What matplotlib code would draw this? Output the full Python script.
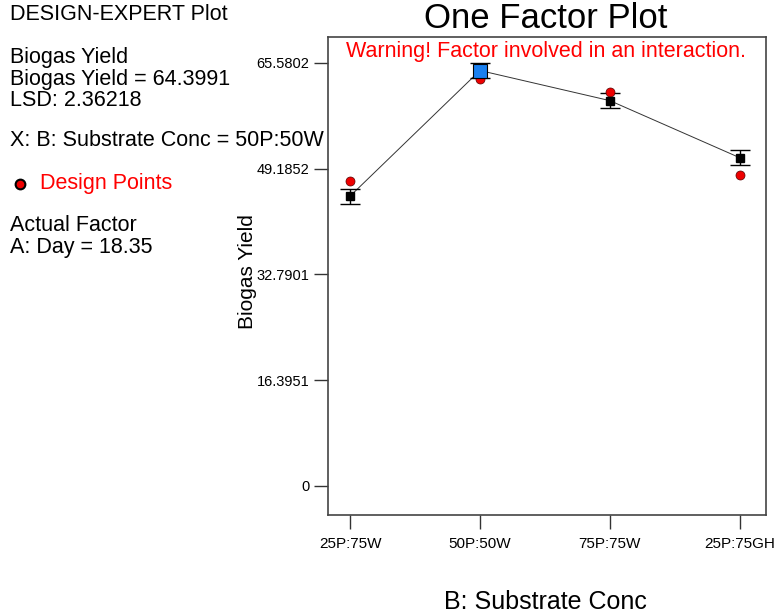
import matplotlib
matplotlib.use("Agg")
import matplotlib.pyplot as plt

plt.rcParams['font.family'] = ['Liberation Sans', 'DejaVu Sans']

categories = ["25P:75W", "50P:50W", "75P:75W", "25P:75GH"]
predicted = [44.92, 64.3991, 59.73, 50.88]
design_points = [47.2, 63.14, 61.12, 48.13]
lsd = 2.36218
yticks = [0, 16.3951, 32.7901, 49.1852, 65.5802]
ytick_labels = ["0", "16.3951", "32.7901", "49.1852", "65.5802"]
current_idx = 1

fig = plt.figure(figsize=(7.79, 6.16), dpi=100)
ax = fig.add_axes([0.421, 0.164, 0.562, 0.776])

x = list(range(len(categories)))
ax.plot(x, predicted, '-', color='#333333', lw=0.7, zorder=2)
ax.errorbar(x, predicted, yerr=lsd / 2, fmt='none', ecolor='black',
            elinewidth=1.0, capsize=7, capthick=1.0, zorder=3)
others = [i for i in x if i != current_idx]
ax.plot([x[i] for i in others], [predicted[i] for i in others], 's',
        color='black', markersize=6, zorder=4)
ax.plot(x, design_points, 'o', color='#ee0000', markeredgecolor='#550000',
        markeredgewidth=0.5, markersize=6.5, zorder=3)
ax.plot([x[current_idx]], [predicted[current_idx]], 's', color='#1a80f0',
        markeredgecolor='black', markeredgewidth=0.8, markersize=10, zorder=5)

ax.set_xlim(-0.17, 3.2)
ax.set_ylim(-4.5, 69.6)
ax.set_xticks(x)
ax.set_xticklabels(categories, fontsize=11)
ax.set_yticks(yticks)
ax.set_yticklabels(ytick_labels, fontsize=10.5)
ax.tick_params(axis='both', direction='out', length=10, width=1, color='#333333')
ax.tick_params(axis='x', pad=6)
for sp in ax.spines.values():
    sp.set_color('#444444')
    sp.set_linewidth(1.2)

ax.set_ylabel("Biogas Yield", fontsize=15)
ax.yaxis.set_label_coords(-0.161, 0.51)
fig.text(0.70, 1 - 602 / 616, "B: Substrate Conc", fontsize=18, ha='center', va='center')

fig.text(0.70, 1 - 19 / 616, "One Factor Plot", fontsize=25, ha='center', va='center')
fig.text(0.701, 1 - 52 / 616, "Warning! Factor involved in an interaction.",
         fontsize=15.5, color='#ff0000', ha='center', va='center')

left_lines = [
    ("DESIGN-EXPERT Plot", 15),
    ("Biogas Yield", 58),
    ("Biogas Yield = 64.3991", 79),
    ("LSD: 2.36218", 100),
    ("X: B: Substrate Conc = 50P:50W", 141),
    ("Actual Factor", 226),
    ("A: Day = 18.35", 247),
]
for txt, ypix in left_lines:
    fig.text(10 / 779, 1 - ypix / 616, txt, fontsize=15.5, ha='left', va='center')
fig.text(40 / 779, 1 - 184 / 616, "Design Points", fontsize=15.5, color='#ff0000',
         ha='left', va='center')
fig.lines.append(plt.Line2D([20 / 779], [1 - 184 / 616], marker='o', color='#ee0000',
                            markeredgecolor='black', markeredgewidth=1.5, markersize=7,
                            transform=fig.transFigure))

fig.savefig("out.png", dpi=100)
